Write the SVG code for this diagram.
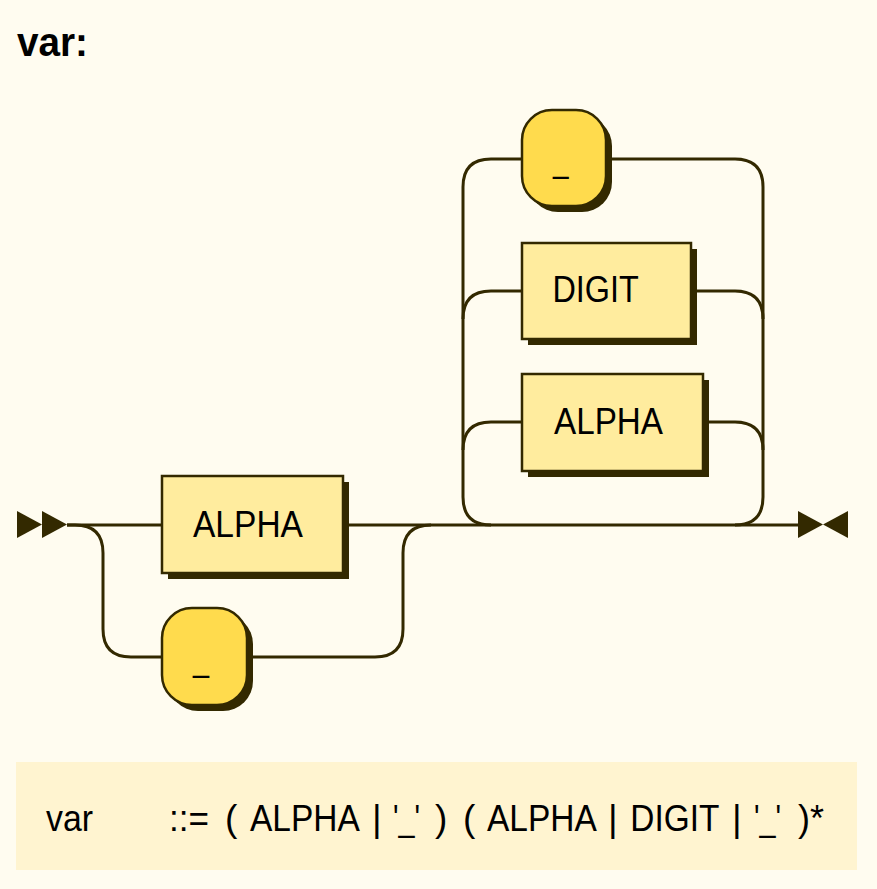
<svg xmlns="http://www.w3.org/2000/svg" width="877" height="889" viewBox="0 0 877 889">
<style>
.bg{fill:#FFFCF0}
.line{fill:none;stroke:#332900;stroke-width:3}
.shadow{fill:#332900}
.nt{fill:#FFEC9E;stroke:#332900;stroke-width:2.5}
.t{fill:#FFDB4D;stroke:#332900;stroke-width:2.5}
.arrow{fill:#332900}
.lbl{font-family:"Liberation Sans",Arial,sans-serif;font-size:37px;fill:#000}
.title{font-family:"Liberation Sans",Arial,sans-serif;font-size:40px;font-weight:bold;fill:#000}
.ebnfbox{fill:#FFF4D0}
</style>
<rect class="bg" x="0" y="0" width="877" height="889"/>
<text class="title" x="17" y="56" textLength="71" lengthAdjust="spacingAndGlyphs">var:</text>

<g id="connectors">
<polygon class="arrow" points="17,511 17,538 42,524.5"/>
<polygon class="arrow" points="42,511 42,538 67,524.5"/>
<path class="line" d="M67,525 H162"/>
<path class="line" d="M343,525 H798"/>
<path class="line" d="M67,525 H75 q28,0 28,28 V629 q0,28 28,28 H162"/>
<path class="line" d="M247,657 H375 q28,0 28,-28 V553 q0,-28 28,-28"/>
<path class="line" d="M522,159 H491 q-28,0 -28,28 V497 q0,28 28,28"/>
<path class="line" d="M463,319 q0,-28 28,-28 H522"/>
<path class="line" d="M463,450 q0,-28 28,-28 H522"/>
<path class="line" d="M606,159 H735 q28,0 28,28 V497 q0,28 -28,28"/>
<path class="line" d="M691,291 H735 q28,0 28,28"/>
<path class="line" d="M703,422 H735 q28,0 28,28"/>
<polygon class="arrow" points="798,511 798,538 823,524.5"/>
<polygon class="arrow" points="848,511 848,538 823,524.5"/>
</g>

<g id="node-alpha1">
<rect class="shadow" x="168" y="482" width="181" height="97"/>
<rect class="nt" x="162" y="476" width="181" height="97"/>
<text class="lbl" x="193" y="537" textLength="110" lengthAdjust="spacingAndGlyphs">ALPHA</text>
</g>

<g id="node-underscore1">
<rect class="shadow" x="168" y="614" width="85" height="97" rx="30" ry="30"/>
<rect class="t" x="162" y="608" width="85" height="97" rx="30" ry="30"/>
<text class="lbl" x="193" y="670.5" textLength="16" lengthAdjust="spacingAndGlyphs">_</text>
</g>

<g id="node-underscore2">
<rect class="shadow" x="528" y="116" width="84" height="96" rx="30" ry="30"/>
<rect class="t" x="522" y="110" width="84" height="96" rx="30" ry="30"/>
<text class="lbl" x="553" y="171.5" textLength="15.5" lengthAdjust="spacingAndGlyphs">_</text>
</g>

<g id="node-digit">
<rect class="shadow" x="528" y="249" width="169" height="96"/>
<rect class="nt" x="522" y="243" width="169" height="96"/>
<text class="lbl" x="552.4" y="302.3" textLength="86.3" lengthAdjust="spacingAndGlyphs">DIGIT</text>
</g>

<g id="node-alpha2">
<rect class="shadow" x="528" y="380" width="181" height="97"/>
<rect class="nt" x="522" y="374" width="181" height="97"/>
<text class="lbl" x="554" y="433.5" textLength="109" lengthAdjust="spacingAndGlyphs">ALPHA</text>
</g>

<g id="ebnf">
<rect class="ebnfbox" x="16" y="762" width="841" height="108"/>
<text class="lbl" y="831">
<tspan x="46" textLength="47" lengthAdjust="spacingAndGlyphs">var</tspan>
<tspan x="169" textLength="40" lengthAdjust="spacingAndGlyphs">::=</tspan>
<tspan x="225">(</tspan>
<tspan x="250" textLength="108" lengthAdjust="spacingAndGlyphs">ALPHA</tspan>
<tspan x="372">|</tspan>
<tspan x="393" textLength="27" lengthAdjust="spacingAndGlyphs">'_'</tspan>
<tspan x="435">)</tspan>
<tspan x="463">(</tspan>
<tspan x="487" textLength="108" lengthAdjust="spacingAndGlyphs">ALPHA</tspan>
<tspan x="608">|</tspan>
<tspan x="630.3" textLength="88.4" lengthAdjust="spacingAndGlyphs">DIGIT</tspan>
<tspan x="732">|</tspan>
<tspan x="754" textLength="27" lengthAdjust="spacingAndGlyphs">'_'</tspan>
<tspan x="798" textLength="26" lengthAdjust="spacingAndGlyphs">)*</tspan>
</text>
</g>
</svg>
